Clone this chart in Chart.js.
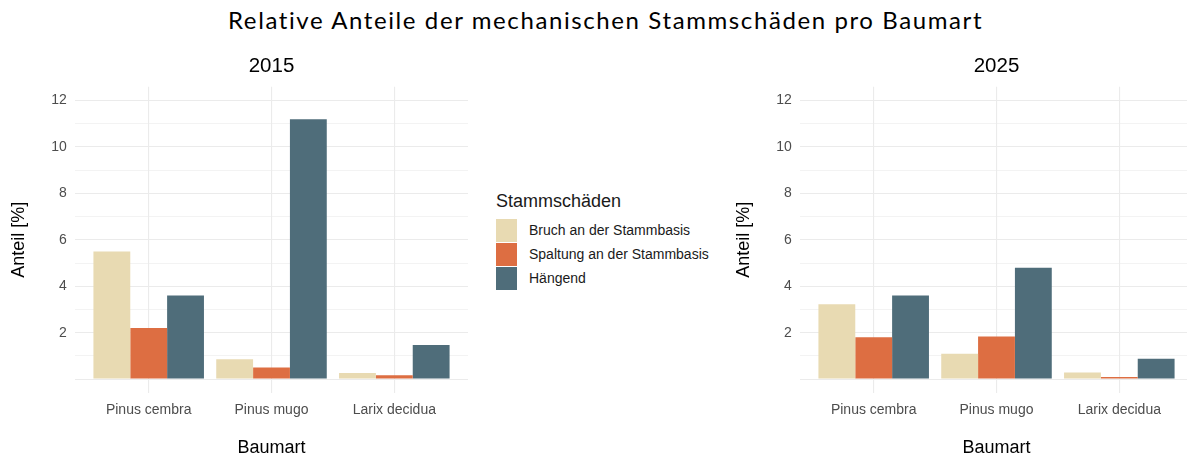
<!DOCTYPE html>
<html>
<head>
<meta charset="utf-8">
<script src="https://cdn.jsdelivr.net/npm/chart.js@4.4.1/dist/chart.umd.min.js"></script>
<style>
  body { margin: 0; width: 1187px; height: 459px; overflow: hidden; background: #fff; position: relative; font-family: "Liberation Sans", Arial, sans-serif; }
  #mainTitle { position: absolute; left: 228px; top: 4.5px; font-family: Lato, sans-serif; font-size: 24px; letter-spacing: 1.6px; color: #000; white-space: nowrap; }
  .panel { position: absolute; top: 0; height: 459px; }
  #p2015 { left: 0; width: 468px; }
  #p2025 { left: 720px; width: 473px; }
  #legend { position: absolute; left: 496px; top: 191px; color: #1a1a1a; }
  #legend .ttl { font-size: 18px; line-height: 21px; height: 27px; }
  #legend .row { height: 24px; display: flex; align-items: center; font-size: 14px; }
  #legend .key { width: 21px; height: 23px; margin-right: 12px; }
</style>
</head>
<body>
<div id="mainTitle">Relative Anteile der mechanischen Stammschäden pro Baumart</div>
<div class="panel" id="p2015"><canvas id="c2015"></canvas></div>
<div id="legend"></div>
<div class="panel" id="p2025"><canvas id="c2025"></canvas></div>
<script>
const species = ['Pinus cembra', 'Pinus mugo', 'Larix decidua'];
const damageTypes = ['Bruch an der Stammbasis', 'Spaltung an der Stammbasis', 'Hängend'];
const damageColors = ['#E8DAB2', '#DD6E42', '#4F6D7A'];

const bruch2015 = [5.5, 0.85, 0.26];
const spaltung2015 = [2.2, 0.5, 0.17];
const haengend2015 = [3.6, 11.2, 1.47];

const bruch2025 = [3.23, 1.09, 0.28];
const spaltung2025 = [1.8, 1.83, 0.09];
const haengend2025 = [3.6, 4.8, 0.88];

const yGridValues = [0, 1, 2, 3, 4, 5, 6, 7, 8, 9, 10, 11, 12];
const yLabeled = [2, 4, 6, 8, 10, 12];

const tickFont = { family: '"Liberation Sans", Arial, sans-serif', size: 14 };
const titleFont = { family: '"Liberation Sans", Arial, sans-serif', size: 18 };

function makeChart(canvasId, year, series, axisWidth, yTitlePad) {
  const datasets = series.map((values, i) => ({
    label: damageTypes[i],
    data: values.map((v, j) => ({ x: j + 1, y: v })),
    backgroundColor: damageColors[i],
    borderWidth: 0,
    categoryPercentage: 0.9,
    barPercentage: 1,
  }));

  return new Chart(document.getElementById(canvasId), {
    type: 'bar',
    data: { datasets },
    options: {
      responsive: true,
      maintainAspectRatio: false,
      animation: false,
      layout: { padding: 0 },
      plugins: {
        legend: { display: false },
        tooltip: { enabled: false },
        title: {
          display: true,
          text: year,
          fullSize: false,
          color: '#000',
          font: { family: '"Liberation Sans", Arial, sans-serif', size: 20.5, weight: 'normal' },
          padding: { top: 53.7, bottom: 8.4 },
        },
      },
      scales: {
        x: {
          type: 'linear',
          min: 0.4,
          max: 3.6,
          offset: false,
          afterBuildTicks: (axis) => {
            axis.ticks = species.map((s, i) => ({ value: i + 1 }));
          },
          afterFit: (axis) => { axis.height = 66; },
          ticks: {
            callback: (v) => species[v - 1],
            color: '#4d4d4d',
            font: tickFont,
            padding: 8.5,
            maxRotation: 0,
            autoSkip: false,
          },
          grid: { color: '#ebebeb', lineWidth: 1.1, drawTicks: false, offset: false },
          border: { display: false },
          title: { display: true, text: 'Baumart', color: '#000', font: titleFont, padding: { top: 0, bottom: 0.5 } },
        },
        y: {
          min: -0.6,
          max: 12.6,
          afterBuildTicks: (axis) => {
            axis.ticks = yGridValues.map((v) => ({ value: v }));
          },
          afterFit: (axis) => { axis.width = axisWidth; },
          ticks: {
            callback: (v) => (yLabeled.includes(v) ? String(v) : ''),
            color: '#4d4d4d',
            font: tickFont,
            padding: 8.3,
          },
          grid: {
            color: '#ebebeb',
            lineWidth: (ctx) => (ctx.tick && ctx.tick.value % 2 === 0 ? 1.1 : 0.6),
            drawTicks: false,
          },
          border: { display: false },
          title: { display: true, text: 'Anteil [%]', color: '#000', font: titleFont, padding: { top: yTitlePad, bottom: 0 } },
        },
      },
    },
  });
}

makeChart('c2015', '2015', [bruch2015, spaltung2015, haengend2015], 75, 8.2);
makeChart('c2025', '2025', [bruch2025, spaltung2025, haengend2025], 80, 13.2);

// legend between the two panels
const legendEl = document.getElementById('legend');
legendEl.innerHTML = '<div class="ttl">Stammschäden</div>' + damageTypes.map((t, i) =>
  `<div class="row"><div class="key" style="background:${damageColors[i]}"></div><span>${t}</span></div>`
).join('');
</script>
</body>
</html>
